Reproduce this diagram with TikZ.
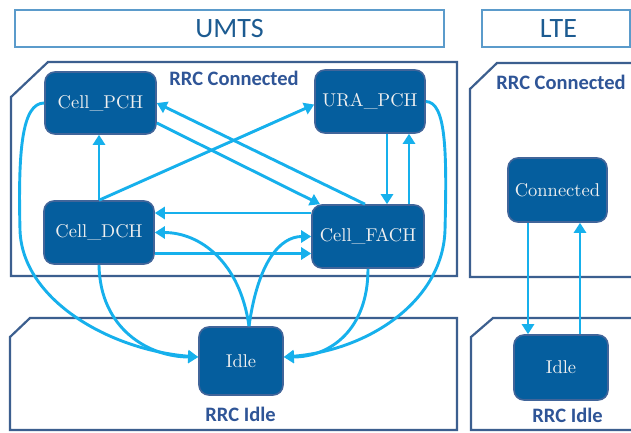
\documentclass[tikz,border=0pt]{standalone}
\usepackage{fontspec}
\setmainfont{Latin Modern Roman}
\newfontfamily\statefont{lmroman10-regular.otf}
\newfontfamily\calib{Carlito}
\usetikzlibrary{arrows.meta}

\definecolor{flow}{HTML}{16B0EC}
\definecolor{statefill}{HTML}{055E9E}
\definecolor{stateedge}{HTML}{41659A}
\definecolor{panel}{HTML}{3C5F8F}
\definecolor{headedge}{HTML}{5B9BCB}
\definecolor{headtext}{HTML}{1C5B91}
\definecolor{labeltext}{HTML}{2F5597}
\definecolor{statetext}{HTML}{F0F0F0}

\tikzset{
  state/.style={draw=stateedge, line width=1.6pt, fill=statefill,
    rounded corners=10pt, inner sep=0pt, text=statetext,
    font=\statefont\fontsize{18.5}{20}\selectfont},
  panelbox/.style={draw=panel, line width=2.2pt, line join=miter},
  headbox/.style={draw=headedge, line width=1.2pt},
  headlabel/.style={text=headtext, font=\calib\fontsize{28}{30}\selectfont},
  paneltitle/.style={text=labeltext, anchor=base,
    font=\calib\bfseries\fontsize{20.5}{22}\selectfont},
  flowarrow/.style={draw=flow, line width=2.9pt,
    -{Triangle[length=10pt,width=12pt]}},
}

\begin{document}
\begin{tikzpicture}[x=1pt,y=-1pt]
  \clip (0,0) rectangle (631,432);
  \fill[white] (0,0) rectangle (631,432);

  % headers
  \draw[headbox] (15,10) rectangle (444,47);
  \node[headlabel] (umts) at (229.5,29) {UMTS};
  \draw[headbox] (482,10) rectangle (630,47);
  \node[headlabel] (lte) at (558.5,29) {LTE};

  % RRC state panels
  \draw[panelbox] (11,97) -- (48,62) -- (457,62) -- (457,276) -- (11,276) -- cycle;
  \draw[panelbox] (470,89) -- (497,63) -- (645,63) -- (645,277) -- (470,277) -- cycle;
  \draw[panelbox] (10,337) -- (30,318) -- (457,318) -- (457,430) -- (10,430) -- cycle;
  \draw[panelbox] (471,337) -- (493,318) -- (645,318) -- (645,430) -- (471,430) -- cycle;

  \node[paneltitle] (umtsconn) at (234,85) {RRC Connected};
  \node[paneltitle] (lteconn) at (561,89) {RRC Connected};
  \node[paneltitle] (umtsidle) at (240.5,421) {RRC Idle};
  \node[paneltitle] (lteidle) at (567.5,422) {RRC Idle};

  % UMTS states
  \node[state, minimum width=111pt, minimum height=62pt] (pch)  at (100.5,103) {Cell\_PCH};
  \node[state, minimum width=110pt, minimum height=63pt] (ura)  at (370,101.5) {URA\_PCH};
  \node[state, minimum width=110pt, minimum height=63pt] (dch)  at (99,232.5) {Cell\_DCH};
  \node[state, minimum width=112pt, minimum height=63pt] (fach) at (368,236.5) {Cell\_FACH};
  \node[state, minimum width=84pt, minimum height=68pt]  (idle) at (241,361) {Idle};

  % LTE states
  \node[state, minimum width=99pt, minimum height=64pt] (conn)  at (557.5,190) {Connected};
  \node[state, minimum width=94pt, minimum height=65pt] (idle2) at (561,367.5) {Idle};

  % UMTS transitions inside RRC Connected
  \draw[flowarrow] (dch.north) -- (dch.north |- pch.south);
  \draw[flowarrow] (dch.north) -- ([yshift=-3pt]ura.west);
  \draw[flowarrow] ([yshift=-20pt]pch.east) -- ([xshift=-48pt]fach.north);
  \draw[flowarrow] ([xshift=-3pt]fach.north) -- (pch.east);
  \draw[flowarrow] ([xshift=17pt]ura.south) -- ([xshift=17pt]ura.south |- fach.north);
  \draw[flowarrow] ([xshift=41pt]fach.north) -- ([xshift=41pt]fach.north |- ura.south);
  \draw[flowarrow] (fach.west |- 0,213) -- (dch.east |- 0,213);
  \draw[flowarrow] (dch.east |- 0,253.5) -- (fach.west |- 0,253.5);

  % UMTS transitions to and from Idle
  \draw[flowarrow] ([xshift=8pt]idle.north) .. controls (240,262) and (200,232.5) .. (dch.east);
  \draw[flowarrow] ([xshift=8pt]idle.north) .. controls (258,262) and (280,236.5) .. (fach.west);
  \draw[flowarrow] (dch.south) .. controls (100,330) and (150,357) .. ([yshift=4pt]idle.west);
  \draw[flowarrow] (fach.south) .. controls (368,330) and (330,357) .. ([yshift=4pt]idle.east);
  \draw[flowarrow] (pch.west) .. controls (22,103) and (18,150) .. (20,230)
    .. controls (22,300) and (110,350) .. ([yshift=4pt]idle.west);
  \draw[flowarrow] (ura.east) .. controls (446,102) and (447,150) .. (445,230)
    .. controls (443,300) and (370,350) .. ([yshift=4pt]idle.east);

  % LTE transitions
  \draw[flowarrow] ([xshift=-29.5pt]conn.south) -- ([xshift=-29.5pt]conn.south |- idle2.north);
  \draw[flowarrow] ([xshift=22.5pt]conn.south |- idle2.north) -- ([xshift=22.5pt]conn.south);
\end{tikzpicture}
\end{document}
